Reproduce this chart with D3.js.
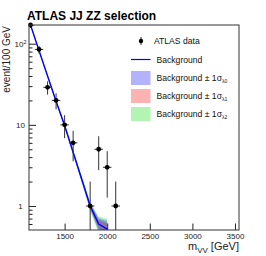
<!DOCTYPE html>
<html>
<head>
<meta charset="utf-8">
<script src="https://cdn.jsdelivr.net/npm/d3@7"></script>
<style>
  body { margin: 0; background: #fff; }
  svg { display: block; font-family: "Liberation Sans", Arial, sans-serif; }
</style>
</head>
<body>
<div id="chart"></div>
<script>
// data (events per 100 GeV bin)
const massBins = [1100, 1200, 1300, 1400, 1500, 1600, 1700, 1800, 1900, 2000, 2100];
const dataCounts = [170, 85, 29, 20, 10, 6, 0, 1, 5, 3, 1];

const bkgMass = [1100, 1200, 1300, 1400, 1500, 1600, 1700, 1800, 1900, 2000];
const bkgValues = [170, 82, 40, 19.5, 9.8, 4.6, 2.15, 1.0, 0.6, 0.52];
// relative 1 sigma uncertainty of each band
const sigmaL0 = [0.01, 0.015, 0.02, 0.03, 0.04, 0.05, 0.07, 0.09, 0.18, 0.26];
const sigmaL1 = [0.01, 0.01, 0.015, 0.02, 0.03, 0.04, 0.05, 0.07, 0.12, 0.18];
const sigmaL2 = [0.02, 0.03, 0.04, 0.05, 0.06, 0.08, 0.1, 0.13, 0.24, 0.34];

const xTicks = [1500, 2000, 2500, 3000, 3500];
const yTicks = [1, 10, 100];
const yTickLabels = ["1", "10", "10|2"];

const legendLabels = ["ATLAS data", "Background", "Background \u00b1 1\u03c3|\u03bb0", "Background \u00b1 1\u03c3|\u03bb1", "Background \u00b1 1\u03c3|\u03bb2"];

const W = 266, H = 256;
const m = {left: 29, top: 25, right: 239, bottom: 230};

const svg = d3.select("#chart").append("svg")
    .attr("width", W).attr("height", H);

const x = d3.scaleLinear().domain([1082, 3547]).range([m.left, m.right]);
const y = d3.scaleLog().domain([0.506, 170]).range([m.bottom, m.top]);

svg.append("defs").append("clipPath").attr("id", "clip")
    .append("rect").attr("x", m.left).attr("y", m.top)
    .attr("width", m.right - m.left).attr("height", m.bottom - m.top);

const plot = svg.append("g").attr("clip-path", "url(#clip)");

// uncertainty bands
const bands = [
    {s: sigmaL2, color: "rgba(0,220,0,0.3)"},
    {s: sigmaL1, color: "rgba(255,0,0,0.3)"},
    {s: sigmaL0, color: "rgba(0,0,255,0.3)"}
];
const area = d3.area()
    .x(d => x(d.m))
    .y0(d => y(Math.max(d.v * (1 - d.s), 0.01)))
    .y1(d => y(d.v * (1 + d.s)));
bands.forEach(b => {
    const pts = bkgMass.map((mm, i) => ({m: mm, v: bkgValues[i], s: b.s[i]}));
    plot.append("path").attr("d", area(pts)).attr("fill", b.color).attr("stroke", "none");
});

// background line
const line = d3.line().x((d, i) => x(d)).y((d, i) => y(bkgValues[i]));
plot.append("path").attr("d", line(bkgMass))
    .attr("fill", "none").attr("stroke", "#0000ff").attr("stroke-width", 1.4);

// data error bars
const pts = massBins.map((mm, i) => ({m: mm, n: dataCounts[i]})).filter(d => d.n > 0);
plot.selectAll("line.ey").data(pts).enter().append("line")
    .attr("x1", d => x(d.m)).attr("x2", d => x(d.m))
    .attr("y1", d => y(d.n + Math.sqrt(d.n)))
    .attr("y2", d => d.n - Math.sqrt(d.n) > 0 ? y(d.n - Math.sqrt(d.n)) : m.bottom)
    .attr("stroke", "#333").attr("stroke-width", 1);
plot.selectAll("line.ex").data(pts).enter().append("line")
    .attr("x1", d => x(d.m - 50)).attr("x2", d => x(d.m + 50))
    .attr("y1", d => y(d.n)).attr("y2", d => y(d.n))
    .attr("stroke", "#333").attr("stroke-width", 1);
svg.selectAll("circle.pt").data(pts).enter().append("circle")
    .attr("cx", d => x(d.m)).attr("cy", d => y(d.n)).attr("r", 2.4)
    .attr("fill", "#000");

// axes
const xAxis = svg.append("g").attr("transform", `translate(0,${m.bottom})`)
    .call(d3.axisBottom(x).tickValues(xTicks).tickSize(-6.5).tickPadding(3).tickFormat(d3.format("d")));
xAxis.select(".domain").remove();
xAxis.selectAll("text").attr("font-size", 8).attr("fill", "#222")
    .attr("font-family", "Liberation Sans, Arial, sans-serif");

const minor = [];
[0.1, 1, 10, 100].forEach(dec => {
    for (let k = 2; k <= 9; k++) {
        const v = dec * k;
        if (v > 0.506 && v < 170) minor.push(v);
    }
});
const yMinor = svg.append("g").attr("transform", `translate(${m.left},0)`)
    .call(d3.axisLeft(y).tickValues(minor).tickSize(-3.5).tickFormat(""));
yMinor.select(".domain").remove();

const yAxis = svg.append("g").attr("transform", `translate(${m.left},0)`)
    .call(d3.axisLeft(y).tickValues(yTicks).tickSize(-7).tickFormat((d, i) => ""));
yAxis.select(".domain").remove();
yAxis.selectAll(".tick text").each(function (d, i) {
    const parts = yTickLabels[i].split("|");
    const t = d3.select(this).attr("x", -8.5).attr("text-anchor", "middle")
        .attr("font-size", 8).attr("fill", "#222")
        .attr("font-family", "Liberation Sans, Arial, sans-serif");
    t.append("tspan").text(parts[0]);
    if (parts[1]) t.append("tspan").attr("dy", "-0.45em").attr("font-size", 5.5).text(parts[1]);
});

svg.selectAll(".tick line").attr("stroke", "#222");

// frame
svg.append("rect").attr("x", m.left).attr("y", m.top)
    .attr("width", m.right - m.left).attr("height", m.bottom - m.top)
    .attr("fill", "none").attr("stroke", "#333").attr("stroke-width", 1);

// title and labels
svg.append("text").attr("x", 27).attr("y", 19.5)
    .attr("font-size", 12).attr("font-weight", "bold").attr("fill", "#000")
    .text("ATLAS JJ ZZ selection");

svg.append("text").attr("transform", "translate(10,26) rotate(-90)")
    .attr("text-anchor", "end").attr("font-size", 10).attr("fill", "#222")
    .text("event/100 GeV");

const xl = svg.append("text").attr("x", 239).attr("y", 250)
    .attr("text-anchor", "end").attr("font-size", 11).attr("fill", "#222");
xl.append("tspan").text("m");
xl.append("tspan").attr("dy", 3).attr("font-size", 8).text("VV");
xl.append("tspan").attr("dy", -3).text(" [GeV]");

// legend
const legY = [41, 59.5, 78, 96, 114];
const legColors = [null, null, "rgba(0,0,255,0.3)", "rgba(255,0,0,0.3)", "rgba(0,220,0,0.3)"];
const leg = svg.append("g");
legendLabels.forEach((lab, i) => {
    const yy = legY[i];
    if (i === 0) {
        leg.append("line").attr("x1", 141).attr("x2", 141).attr("y1", yy - 4).attr("y2", yy + 4)
            .attr("stroke", "#222");
        leg.append("circle").attr("cx", 141).attr("cy", yy).attr("r", 2.2).attr("fill", "#000");
    } else if (i === 1) {
        leg.append("line").attr("x1", 131).attr("x2", 150.5).attr("y1", yy).attr("y2", yy)
            .attr("stroke", "#0000ff").attr("stroke-width", 1.2);
    } else {
        leg.append("rect").attr("x", 131).attr("y", yy - 7).attr("width", 19.5).attr("height", 14)
            .attr("fill", legColors[i]);
    }
    const parts = lab.split("|");
    const t = leg.append("text").attr("x", i === 0 ? 154 : 156.5).attr("y", yy + 3)
        .attr("font-size", 8.6).attr("fill", "#111");
    t.append("tspan").text(parts[0]);
    if (parts[1]) t.append("tspan").attr("dy", 2).attr("font-size", 5).text(parts[1]);
});
</script>
</body>
</html>
